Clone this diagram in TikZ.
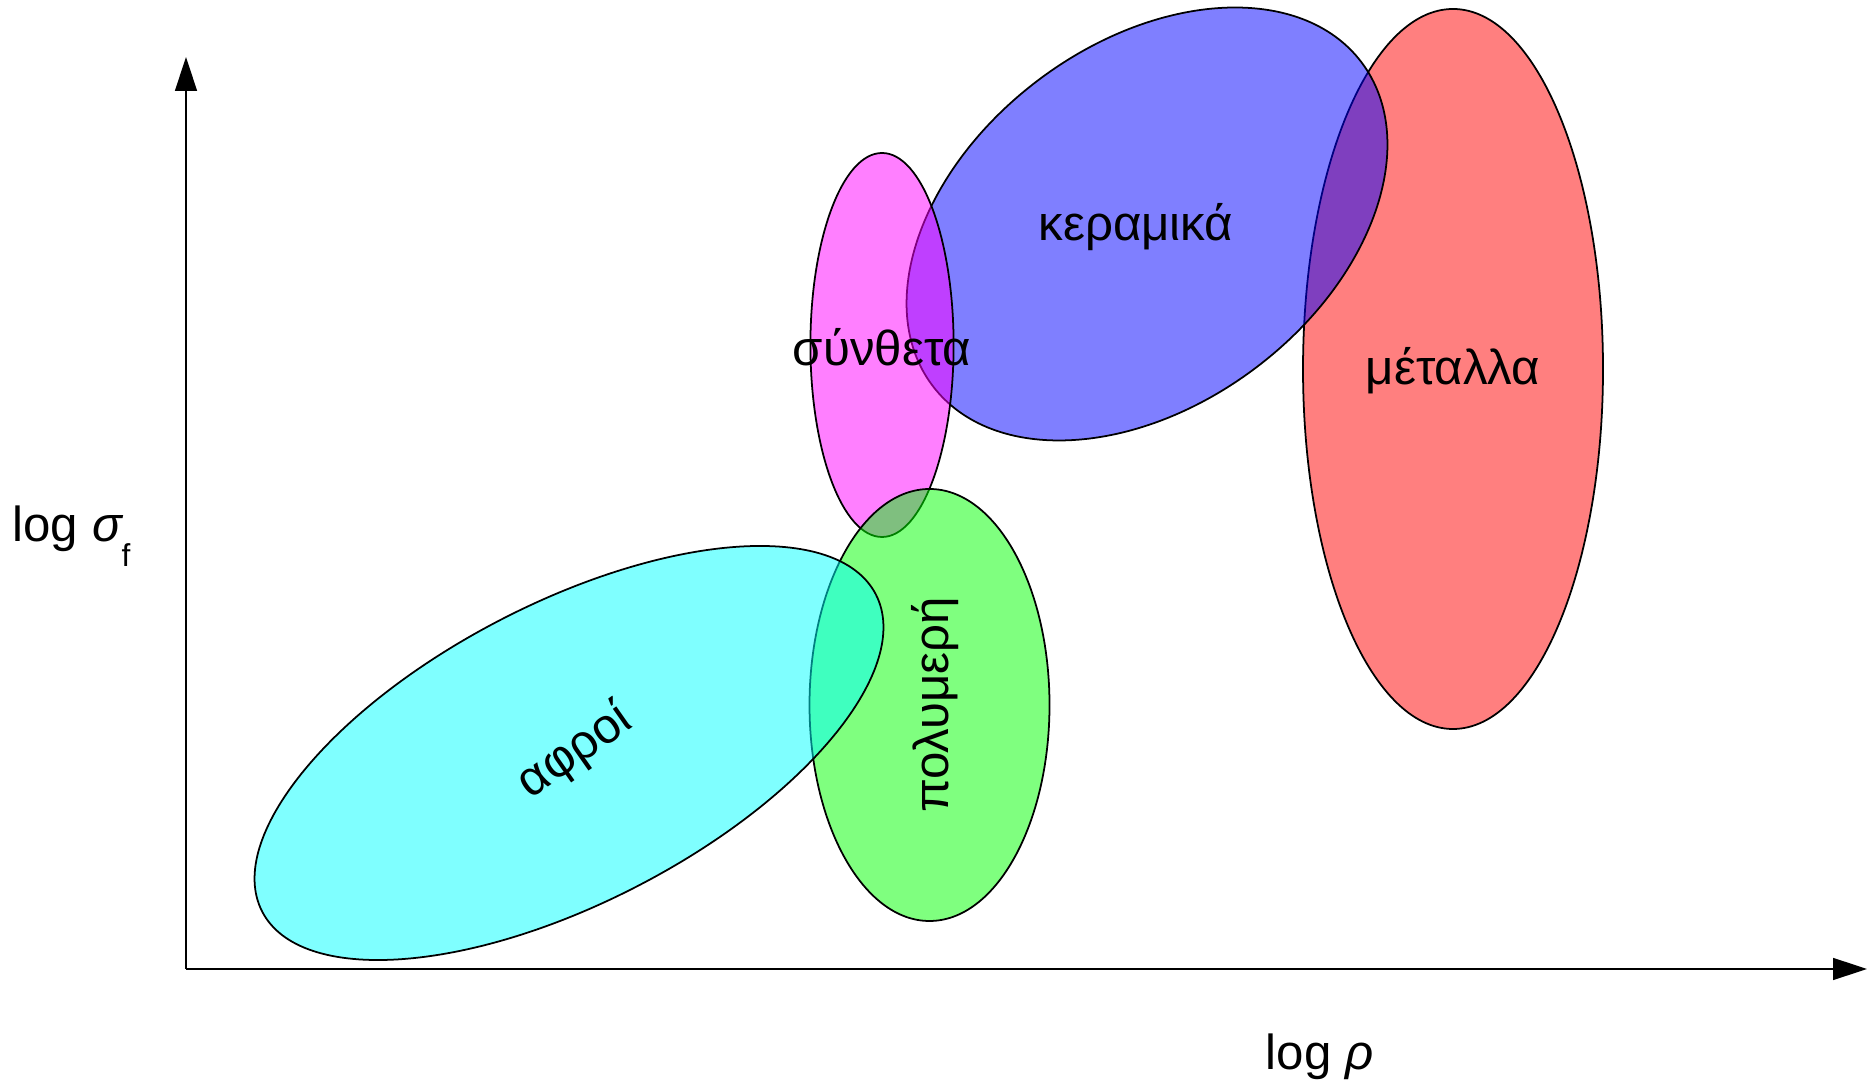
\documentclass[tikz,border=0pt]{standalone}
\usepackage{fontspec}
\setmainfont{Liberation Sans}
\usetikzlibrary{arrows.meta}

\definecolor{metred}{RGB}{255,0,0}
\definecolor{kerblue}{RGB}{0,0,255}
\definecolor{synmag}{RGB}{255,0,255}
\definecolor{polgreen}{RGB}{0,255,0}
\definecolor{afrcyan}{RGB}{0,255,255}

\tikzset{
    blob/.style={draw=black, line width=0.5pt, fill opacity=0.5},
    lbl/.style={font=\fontsize{14}{17}\selectfont, inner sep=0pt},
    axis/.style={line width=0.4pt, -{Triangle[length=3.4mm,width=2.2mm]}}
}

\begin{document}
\begin{tikzpicture}
    \useasboundingbox (0,0) rectangle (18.71,10.83);

    % axes
    \coordinate (O) at (1.86,1.14);
    \coordinate (ytop) at (1.86,10.26);
    \coordinate (xend) at (18.67,1.14);
    \draw[axis] (O) -- (ytop);
    \draw[axis] (O) -- (xend);
    \node[lbl, anchor=base west] (ylab) at (0.12,5.41) {log {\itshape σ}\raisebox{-0.25cm}{\fontsize{9}{10}\selectfont f}};
    \node[lbl, anchor=base west] (xlab) at (12.65,0.13) {log {\itshape ρ}};

    % material families
    \draw[blob, fill=metred] (14.53,7.14) ellipse [x radius=1.50, y radius=3.60];
    \draw[blob, fill=kerblue, rotate around={37:(11.47,8.59)}] (11.47,8.59) ellipse [x radius=2.686, y radius=1.803];
    \draw[blob, fill=synmag] (8.82,7.38) ellipse [x radius=0.716, y radius=1.92];
    \draw[blob, fill=polgreen] (9.295,3.78) ellipse [x radius=1.20, y radius=2.16];
    \draw[blob, fill=afrcyan, rotate around={27.35:(5.69,3.30)}] (5.69,3.30) ellipse [x radius=3.454, y radius=1.497];

    % names
    \node[lbl] (ker) at (11.36,8.56) {κεραμικά};
    \node[lbl] (syn) at (8.82,7.36) {σύνθετα};
    \node[lbl] (met) at (14.53,7.12) {μέταλλα};
    \node[lbl, rotate=90] (pol) at (9.35,3.78) {πολυμερή};
    \node[lbl, rotate=35] (afr) at (5.75,3.31) {αφροί};
\end{tikzpicture}
\end{document}
